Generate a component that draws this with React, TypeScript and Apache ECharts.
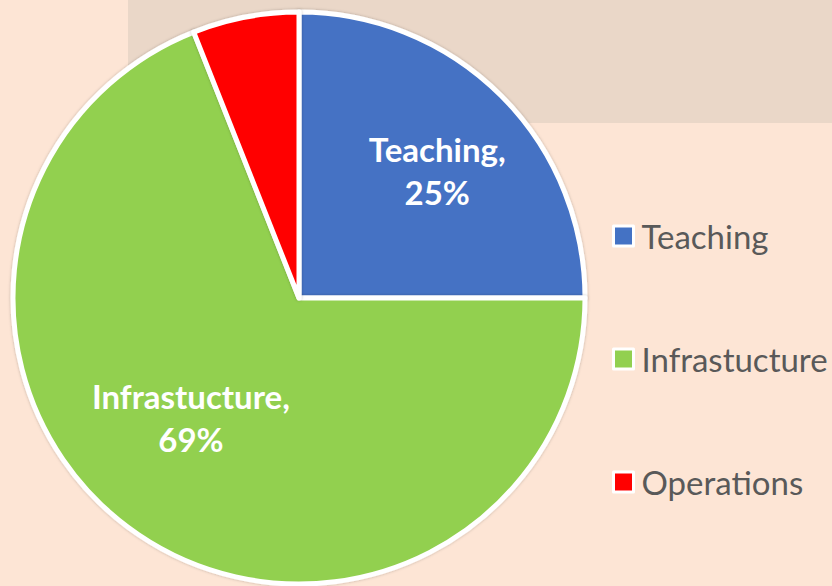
import React, { useEffect, useRef } from "react";
import * as echarts from "echarts";

const categories = ["Teaching", "Infrastucture", "Operations"];
const values = [25, 69, 6];
const colors = ["#4472c4", "#92d050", "#ff0000"];
const labelOffsets: [number, number][] = [[35, -24], [-26, -1], [0, 0]];
const showLabel = [true, true, false];

export default function App() {
  const ref = useRef<HTMLDivElement>(null);
  useEffect(() => {
    if (!ref.current) return;
    const chart = echarts.init(ref.current, null, { renderer: "svg" });
    chart.setOption({
      animation: false,
      backgroundColor: "#fde5d5",
      graphic: [
        {
          type: "rect",
          z: -1,
          shape: { x: 128, y: 0, width: 704, height: 123 },
          style: { fill: "#ead7c8" },
        },
      ],
      legend: {
        orient: "vertical",
        left: 607,
        top: 212,
        itemWidth: 20,
        itemHeight: 20,
        itemGap: 85,
        icon: "rect",
        itemStyle: { borderColor: "#ffffff", borderWidth: 3 },
        textStyle: {
          fontFamily: "Lato",
          fontSize: 33,
          color: "#595959",
          lineHeight: 38,
          padding: [0, 0, 0, 3],
        },
        data: categories,
      },
      series: [
        {
          type: "pie",
          center: [299, 298],
          radius: [0, 286],
          startAngle: 90,
          clockwise: true,
          avoidLabelOverlap: false,
          itemStyle: {
            borderColor: "#ffffff",
            borderWidth: 5,
            shadowColor: "rgba(0,0,0,0.25)",
            shadowBlur: 3,
          },
          label: {
            show: true,
            position: "inside",
            formatter: "{b},\n{d}%",
            color: "#ffffff",
            fontFamily: "Lato",
            fontWeight: "bold",
            fontSize: 33,
            lineHeight: 43,
            align: "center",
          },
          labelLine: { show: false },
          emphasis: { disabled: true },
          data: categories.map((name, i) => ({
            name,
            value: values[i],
            itemStyle: { color: colors[i] },
            label: { show: showLabel[i], offset: labelOffsets[i] },
          })),
        },
      ],
    });
    return () => chart.dispose();
  }, []);
  return (
    <div
      ref={ref}
      style={{ position: "absolute", left: 0, top: 0, width: 832, height: 586 }}
    />
  );
}
